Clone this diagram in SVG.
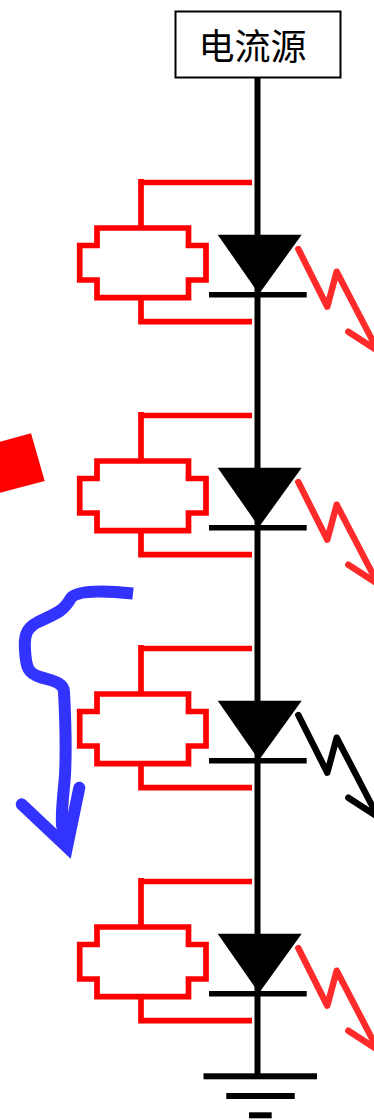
<svg xmlns="http://www.w3.org/2000/svg" width="374" height="1120" viewBox="0 0 374 1120">
<style>
.wire{fill:none;stroke:#000;stroke-width:6}
.red{fill:none;stroke:#f00;stroke-width:5.700}
.ray{fill:none;stroke-width:6.400;stroke-linecap:round;stroke-linejoin:round}
.label{font-family:"Liberation Sans","Noto Sans CJK SC",sans-serif;font-size:36px;fill:#000;text-anchor:middle}
</style>
<defs>
<g id="resistor">
<path class="red" d="M141 179V228M97 228H188.500V245.500H206V280H188.500V297.700H97V280H79.700V245.500H97Z"/>
<path class="red" d="M141 182.500H252M141 297.700V321.700H252M141 318.900V324"/>
</g>
<g id="diode">
<polygon points="217.700,234.700 301.700,234.700 259,294"/>
<rect x="209" y="292" width="97.700" height="5.500"/>
</g>
<path id="ray" d="M298.300 249 327.300 306.700 336.700 271.700 378 351M348.300 331.700 378 351"/>
</defs>
<rect width="374" height="1120" fill="#fff"/>
<g id="connectors">
<path class="wire" d="M257.500 78V1076"/>
</g>
<g id="source">
<rect x="175.500" y="11.500" width="165" height="66" fill="#fff" stroke="#000" stroke-width="2"/>
<text class="label" x="252.500" y="60">电流源</text>
</g>
<g id="unit1"><use href="#resistor"/><use href="#diode"/><use href="#ray" class="ray" stroke="#ff2a2a"/></g>
<g id="unit2" transform="translate(0,233)"><use href="#resistor"/><use href="#diode"/><use href="#ray" class="ray" stroke="#ff2a2a"/></g>
<g id="unit3" transform="translate(0,466)"><use href="#resistor"/><use href="#diode"/><use href="#ray" class="ray" stroke="#000"/></g>
<g id="unit4" transform="translate(0,699)"><use href="#resistor"/><use href="#diode"/><use href="#ray" class="ray" stroke="#ff2a2a"/></g>
<g id="ground">
<rect x="203.500" y="1073.300" width="113.500" height="6"/>
<rect x="226.300" y="1093" width="68.400" height="6"/>
<rect x="249" y="1112.300" width="22.700" height="6"/>
</g>
<polygon id="red-square" points="31,433.300 44.700,481 0,492.700 -20,447" fill="#f00"/>
<g id="blue-arrow" fill="none" stroke="#3333ff" stroke-width="12">
<path d="M133 593.500C110 591 78 589 71 598C64 610 60 612 38 622C26 628 24 636 25 650C26 668 28 673 40 677C52 681 64 682 64 692C66 730 66 755 65 775C64 790 61 810 62 825L67 846"/>
<path stroke-linecap="round" stroke-miterlimit="10" d="M21.700 804.300 67 847 79.300 787.700"/>
</g>
</svg>
